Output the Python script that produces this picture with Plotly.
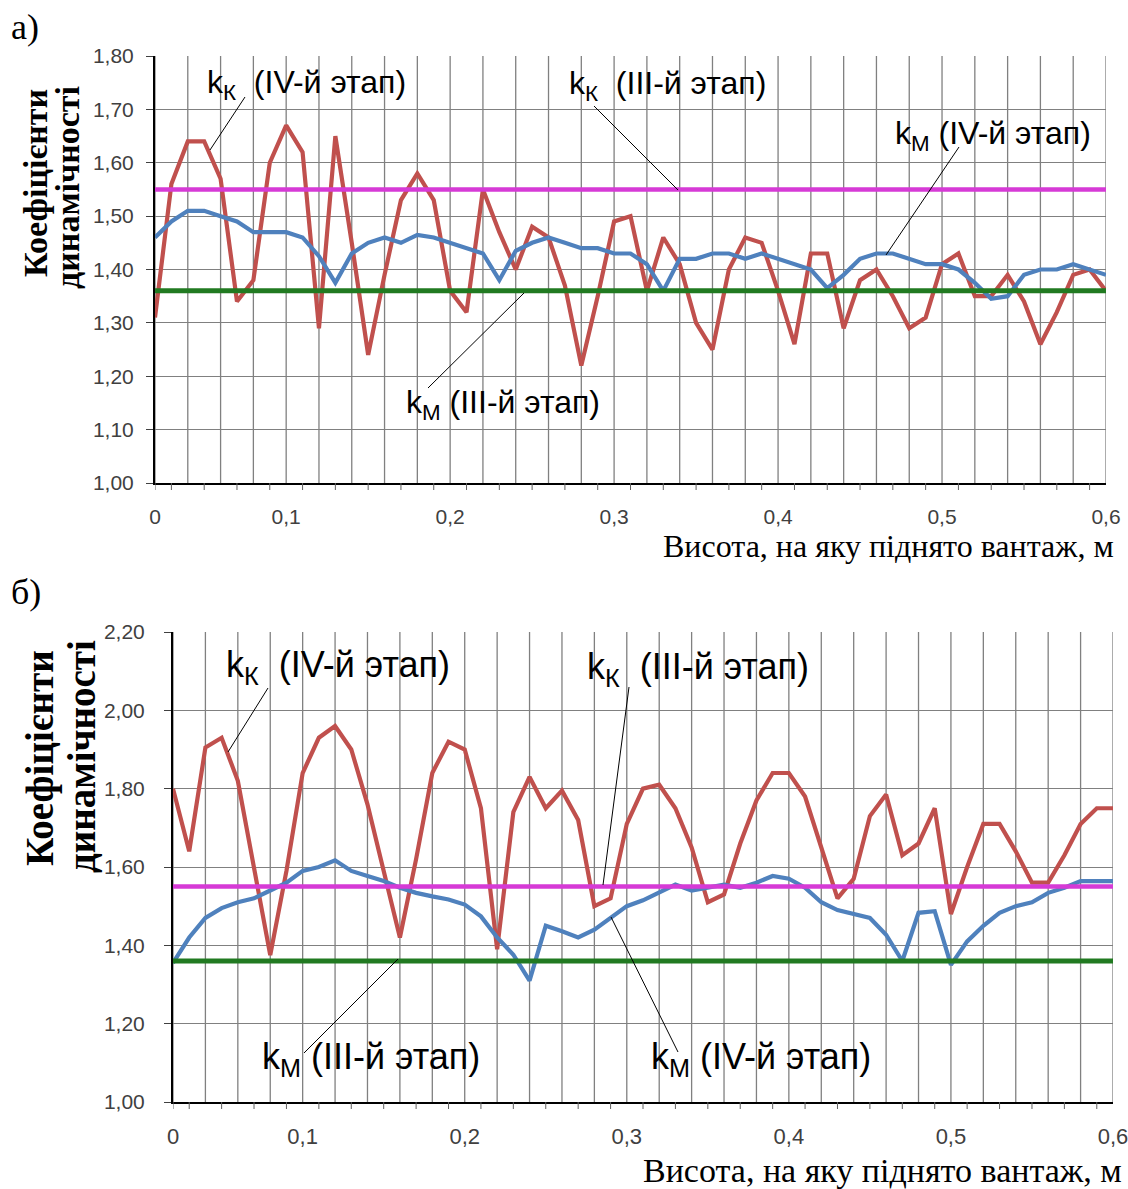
import plotly.graph_objects as go

# ---------------- data ----------------
heights = [0, 0.0125, 0.025, 0.0375, 0.05, 0.0625, 0.075, 0.0875, 0.1,
           0.11, 0.12, 0.13, 0.14, 0.15, 0.16, 0.17, 0.18, 0.19, 0.2,
           0.21, 0.22, 0.23, 0.24, 0.25, 0.26, 0.27, 0.28, 0.29, 0.3,
           0.31, 0.32, 0.33, 0.34, 0.35, 0.36, 0.37, 0.38, 0.39, 0.4,
           0.41, 0.42, 0.43, 0.44, 0.45, 0.46, 0.47, 0.48, 0.49, 0.5,
           0.51, 0.52, 0.53, 0.54, 0.55, 0.56, 0.57, 0.58, 0.59, 0.6]

# a) k_K (IV stage) and k_M (IV stage)
kk_IV_a = [1.31, 1.56, 1.64, 1.64, 1.57, 1.34, 1.38, 1.60, 1.67, 1.62,
           1.29, 1.65, 1.45, 1.24, 1.39, 1.53, 1.58, 1.53, 1.36, 1.32,
           1.55, 1.47, 1.40, 1.48, 1.46, 1.37, 1.22, 1.35, 1.49, 1.50,
           1.36, 1.46, 1.41, 1.30, 1.25, 1.40, 1.46, 1.45, 1.36, 1.26,
           1.43, 1.43, 1.29, 1.38, 1.40, 1.35, 1.29, 1.31, 1.41, 1.43,
           1.35, 1.35, 1.39, 1.34, 1.26, 1.32, 1.39, 1.40, 1.36]
km_IV_a = [1.46, 1.49, 1.51, 1.51, 1.50, 1.49, 1.47, 1.47, 1.47, 1.46,
           1.425, 1.375, 1.43, 1.45, 1.46, 1.45, 1.465, 1.46, 1.45, 1.44,
           1.43, 1.38, 1.435, 1.45, 1.46, 1.45, 1.44, 1.44, 1.43, 1.43,
           1.41, 1.36, 1.42, 1.42, 1.43, 1.43, 1.42, 1.43, 1.42, 1.41,
           1.40, 1.365, 1.39, 1.42, 1.43, 1.43, 1.42, 1.41, 1.41, 1.40,
           1.375, 1.345, 1.35, 1.39, 1.40, 1.40, 1.41, 1.40, 1.39]
kk_III_a = 1.55
km_III_a = 1.36

# b) k_K (IV stage) and k_M (IV stage)
kk_IV_b = [1.80, 1.64, 1.905, 1.93, 1.82, 1.60, 1.375, 1.59, 1.84, 1.93,
           1.96, 1.90, 1.76, 1.59, 1.42, 1.62, 1.84, 1.92, 1.90, 1.75,
           1.39, 1.74, 1.83, 1.75, 1.795, 1.72, 1.50, 1.52, 1.71, 1.80,
           1.81, 1.75, 1.65, 1.51, 1.53, 1.66, 1.77, 1.84, 1.84, 1.78,
           1.65, 1.52, 1.57, 1.73, 1.785, 1.63, 1.66, 1.75, 1.48, 1.60,
           1.71, 1.71, 1.64, 1.56, 1.56, 1.63, 1.71, 1.75, 1.75]
km_IV_b = [1.355, 1.42, 1.47, 1.495, 1.51, 1.52, 1.54, 1.56, 1.59, 1.60,
           1.617, 1.59, 1.577, 1.564, 1.547, 1.534, 1.525, 1.517, 1.504, 1.474,
           1.42, 1.376, 1.31, 1.45, 1.436, 1.42, 1.44, 1.47, 1.50, 1.515,
           1.534, 1.555, 1.54, 1.547, 1.555, 1.547, 1.56, 1.577, 1.57, 1.547,
           1.51, 1.49, 1.48, 1.47, 1.427, 1.36, 1.483, 1.487, 1.35, 1.41,
           1.45, 1.483, 1.50, 1.51, 1.534, 1.547, 1.564, 1.564, 1.564]
kk_III_b = 1.55
km_III_b = 1.36

# ---------------- figure ----------------
W, H = 1128, 1189
pos = list(range(len(heights)))          # category positions
last = pos[-1]


def lab(h):
    if abs(h * 10 - round(h * 10)) < 1e-9:
        return ("%g" % h).replace(".", ",")
    return ""


label_pos = [p for p in pos if lab(heights[p])]
label_txt = [lab(heights[p]) for p in label_pos]
grid_pos = pos[::2]
tick_pos = [0] + pos[1::2]

RED = "#C0504D"
BLUE = "#4F81BD"
MAG = "#D63AD6"
GRN = "#217A21"
GRID = "#808080"


def px(x):
    return x / W


def py(y):
    return 1 - y / H


fig = go.Figure()
for xa, ya, kk, km, k3, m3 in [("x", "y", kk_IV_a, km_IV_a, kk_III_a, km_III_a),
                               ("x2", "y2", kk_IV_b, km_IV_b, kk_III_b, km_III_b)]:
    fig.add_trace(go.Scatter(x=pos, y=kk, mode="lines", xaxis=xa, yaxis=ya,
                             line=dict(color=RED, width=4.2)))
    fig.add_trace(go.Scatter(x=pos, y=km, mode="lines", xaxis=xa, yaxis=ya,
                             line=dict(color=BLUE, width=4.2)))
    fig.add_trace(go.Scatter(x=[0, last], y=[k3, k3], mode="lines", xaxis=xa, yaxis=ya,
                             line=dict(color=MAG, width=4.5)))
    fig.add_trace(go.Scatter(x=[0, last], y=[m3, m3], mode="lines", xaxis=xa, yaxis=ya,
                             line=dict(color=GRN, width=5)))

sans = "Liberation Sans, Arial"
serif = "Liberation Serif, Times New Roman"


def xaxis(dom, anchor, standoff, fsize):
    return dict(domain=dom, anchor=anchor, range=[0, last], tickmode="array",
                tickvals=label_pos, ticktext=label_txt, ticks="",
                showgrid=False, showline=True, linecolor="black", linewidth=2,
                zeroline=False, automargin=False, ticklabeloverflow="allow",
                tickfont=dict(family=sans, size=fsize, color="#404040"),
                ticklabelstandoff=standoff)


def yaxis(dom, anchor, rng, dt, fsize, standoff):
    return dict(domain=dom, anchor=anchor, range=rng, dtick=dt, tick0=1,
                tickformat=".2f", ticks="outside", ticklen=7, tickcolor="#404040",
                showgrid=True, gridcolor=GRID, gridwidth=1.3, showline=True,
                linecolor="black", linewidth=2, zeroline=False, automargin=False,
                tickfont=dict(family=sans, size=fsize, color="#404040"),
                ticklabelstandoff=standoff)


dom_xa = [px(155), px(1106)]
dom_xb = [px(173), px(1113)]
fig.update_layout(
    width=W, height=H, margin=dict(l=0, r=0, t=0, b=0, pad=0, autoexpand=False),
    autosize=False,
    paper_bgcolor="white", plot_bgcolor="white", showlegend=False,
    separators=", ",
    xaxis=xaxis(dom_xa, "y", 14, 21),
    yaxis=yaxis([py(483), py(56)], "x", [1.0, 1.8], 0.1, 21, 8),
    xaxis2=xaxis(dom_xb, "y2", 14, 22),
    yaxis2=yaxis([py(1102), py(632)], "x2", [1.0, 2.2], 0.2, 21, 15),
)

ann = []


def text(x, y, t, size, family=sans, xanchor="left", angle=0, bold=False, color="black"):
    if bold:
        t = "<b>" + t + "</b>"
    ann.append(dict(x=px(x), y=py(y), xref="paper", yref="paper", text=t,
                    showarrow=False, xanchor=xanchor, yanchor="middle",
                    textangle=angle, font=dict(family=family, size=size, color=color)))


# panel letters
text(9, 27, "а)", 36, family=serif)
text(9, 592, "б)", 36, family=serif)

# axis titles (two rotated lines each)
text(35, 183, "Коефіцієнти", 34, family=serif, xanchor="center", angle=-90, bold=True)
text(67, 188, "динамічності", 34, family=serif, xanchor="center", angle=-90, bold=True)
text(40, 758, "Коефіцієнти", 39, family=serif, xanchor="center", angle=-90, bold=True)
text(81, 757, "динамічності", 39, family=serif, xanchor="center", angle=-90, bold=True)
text(1116, 546, "Висота, на яку піднято вантаж, м", 32, family=serif, xanchor="right")
text(1124, 1170, "Висота, на яку піднято вантаж, м", 34, family=serif, xanchor="right")

# curve labels, panel a
text(205, 84, "k<sub>К</sub>  (IV-й этап)", 32)
text(567, 86, "k<sub>К</sub>  (III-й этап)", 32)
text(893, 135, "k<sub>М</sub> (IV-й этап)", 32)
text(404, 404, "k<sub>М</sub> (III-й этап)", 32)
# curve labels, panel b
text(224, 667, "k<sub>К</sub>  (IV-й этап)", 36)
text(585, 669, "k<sub>К</sub>  (III-й этап)", 36)
text(649, 1059, "k<sub>М</sub> (IV-й этап)", 36)
text(260, 1059, "k<sub>М</sub> (III-й этап)", 36)

leaders = [
    (245, 97, 210, 150),
    (594, 106, 678, 190),
    (959, 147, 886, 255),
    (428, 388, 524, 293),
    (268, 688, 228, 752),
    (629, 687, 603, 885),
    (678, 1052, 611, 917),
    (304, 1053, 398, 959),
]
shapes = [dict(type="line", xref="paper", yref="paper", x0=px(a), y0=py(b),
               x1=px(c), y1=py(d), line=dict(color="black", width=1))
          for a, b, c, d in leaders]

# vertical grid lines (one every second category) and small outside tick marks
for xr, yr, plot_h in [("x", "y domain", 483 - 56), ("x2", "y2 domain", 1102 - 632)]:
    for p in grid_pos:
        shapes.append(dict(type="line", xref=xr, yref=yr, x0=p, x1=p, y0=0, y1=1,
                           layer="below", line=dict(color=GRID, width=1.3)))
    for p in tick_pos:
        shapes.append(dict(type="line", xref=xr, yref=yr, x0=p, x1=p, y0=0,
                           y1=-7 / plot_h, line=dict(color="#606060", width=1)))

fig.update_layout(annotations=ann, shapes=shapes)
fig.write_html(
    "out.html",
    config={"displayModeBar": False, "responsive": False},
    post_script=("document.documentElement.style.margin='0px';"
                 "document.documentElement.style.overflow='hidden';"
                 "document.body.style.margin='0px';"
                 "document.body.style.padding='0px';"
                 "document.body.style.overflow='hidden';"))
